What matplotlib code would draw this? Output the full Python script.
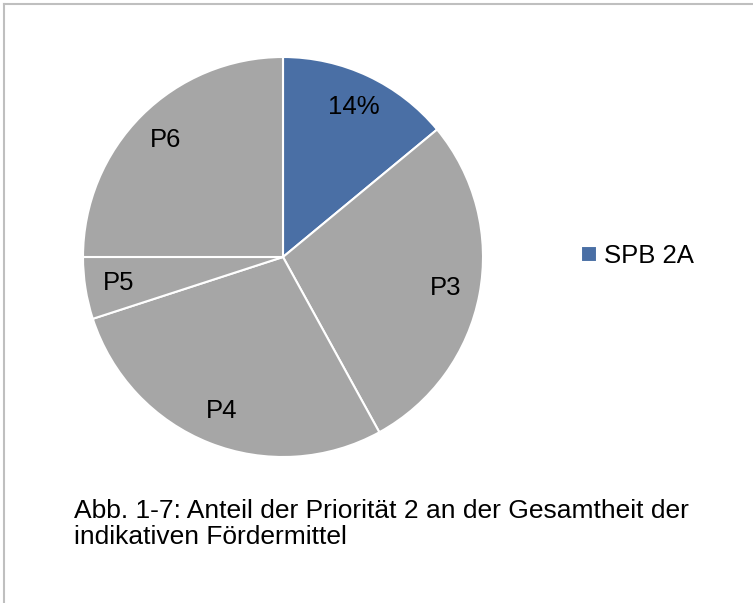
import matplotlib.pyplot as plt
from matplotlib.lines import Line2D

plt.rcParams['font.family'] = ['Liberation Sans', 'DejaVu Sans']

# Anteile (in %), im Uhrzeigersinn ab 12 Uhr
labels = ['14%', 'P3', 'P4', 'P5', 'P6']
values = [14, 28, 28, 5, 25]
colors = ['#4A6FA5', '#A6A6A6', '#A6A6A6', '#A6A6A6', '#A6A6A6']
legend_label = 'SPB 2A'
caption = 'Abb. 1-7: Anteil der Priorität 2 an der Gesamtheit der\nindikativen Fördermittel'

W, H = 753, 603
fig = plt.figure(figsize=(W / 100, H / 100), dpi=100)

# Pie axes: center (283, 257), radius 200 px
cx, cy, r = 283, 257, 200
ax = fig.add_axes([(cx - r) / W, (H - cy - r) / H, 2 * r / W, 2 * r / H])
wedges, texts = ax.pie(values, labels=labels, colors=colors, startangle=90,
                       counterclock=False, labeldistance=0.83,
                       wedgeprops=dict(edgecolor='white', linewidth=1.5),
                       textprops=dict(fontsize=18.5, color='black'))
for t in texts:
    t.set_ha('center')
    t.set_va('center')
ax.set_aspect('equal')
ax.set_xlim(-1, 1)
ax.set_ylim(-1, 1)

fig.legend([wedges[0]], [legend_label], loc='center left',
           bbox_to_anchor=(558 / W, 1 - 256 / H), frameon=False,
           fontsize=18.5, handlelength=0.6, handleheight=0.6, handletextpad=0.3)

fig.text(74 / W, 1 - 499 / H, caption, fontsize=19, va='top', ha='left',
         linespacing=1.08)

# frame lines (top and left only)
fig.add_artist(Line2D([4 / W, 4 / W], [0, 1 - 4 / H], transform=fig.transFigure,
                      color='#BFBFBF', linewidth=1.5))
fig.add_artist(Line2D([4 / W, 1], [1 - 4 / H, 1 - 4 / H], transform=fig.transFigure,
                      color='#BFBFBF', linewidth=1.5))

fig.savefig('out.png', dpi=100)
